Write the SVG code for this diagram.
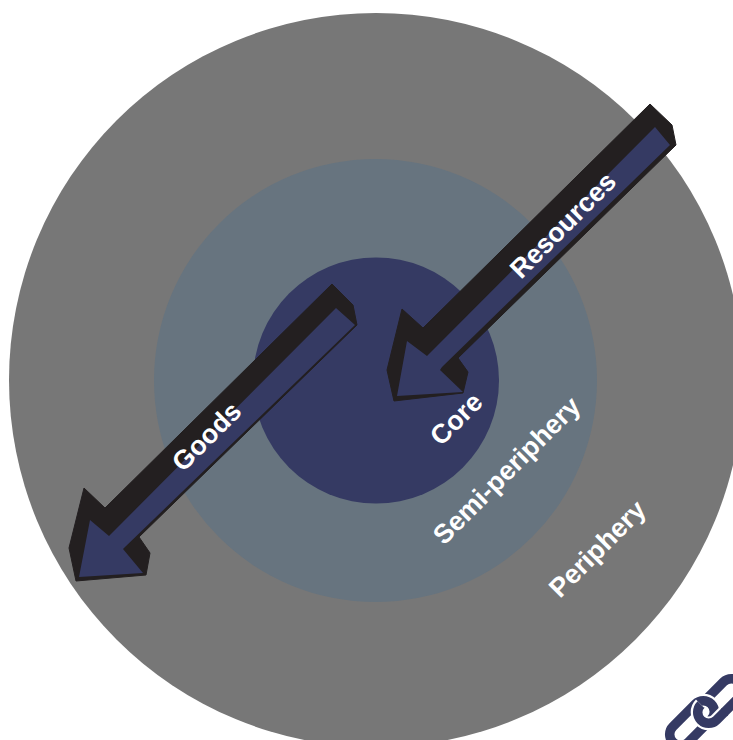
<svg xmlns="http://www.w3.org/2000/svg" width="733" height="740" viewBox="0 0 733 740">
<style>
.lbl{font-family:"Liberation Sans",Arial,sans-serif;font-weight:700;font-size:26.8px;fill:#fff}
.blk{fill:#231f20;stroke:#231f20;stroke-width:1;stroke-linejoin:round}
.nav{fill:#353a63}
.lnk{fill:none;stroke:#353a63;stroke-width:9.500}
.gap{fill:none;stroke:#fff;stroke-width:14}
</style>
<rect width="733" height="740" fill="#fff"/>
<g id="periphery"><circle cx="376" cy="380" r="367" fill="#777"/></g>
<g id="semi-periphery"><circle cx="375.500" cy="380.500" r="221.500" fill="#67747f"/></g>
<g id="core"><circle cx="376" cy="380.500" r="123" fill="#353a63"/></g>
<g id="connectors">
<g id="resources-arrow">
<polygon class="blk" points="650,104 672,125 676,145 458,358 468,372 463,393 394,401 387,370 402,309 423,328"/>
<polygon class="nav" points="655,127 670,145 442,367 440,370 463,392 397,396 407,341 427,356"/>
</g>
<g id="goods-arrow">
<polygon class="blk" points="332,284 353,305 357,325 139,537 150,553 146,575 76,581 69,548 84,488 105,508"/>
<polygon class="nav" points="336,308 355,325 125,547 123,549 143,573 79,577 90,520 109,536"/>
</g>
</g>
<text class="lbl" transform="translate(521,280) rotate(-45)">Resources</text>
<text class="lbl" transform="translate(183,473) rotate(-45)">Goods</text>
<g id="label-core"><text class="lbl" transform="translate(441,447) rotate(-45)">Core</text></g>
<g id="label-semi"><text class="lbl" transform="translate(444,546) rotate(-45)">Semi-periphery</text></g>
<g id="label-periphery"><text class="lbl" transform="translate(560,599) rotate(-45)">Periphery</text></g>
<g id="link-icon">
<rect class="lnk" x="-27" y="-11" width="54" height="22" rx="11" transform="translate(720,701) rotate(-45)"/>
<rect class="gap" x="-27" y="-11" width="54" height="22" rx="11" transform="translate(692,723) rotate(-45)"/>
<rect class="lnk" x="-27" y="-11" width="54" height="22" rx="11" transform="translate(692,723) rotate(-45)"/>
<path class="gap" d="M-16,-11 A11,11 0 0 0 -16,11 L-6,11" transform="translate(720,701) rotate(-45)"/>
<path class="lnk" d="M-16,-11 A11,11 0 0 0 -16,11 L-4,11" transform="translate(720,701) rotate(-45)"/>
</g>
</svg>
